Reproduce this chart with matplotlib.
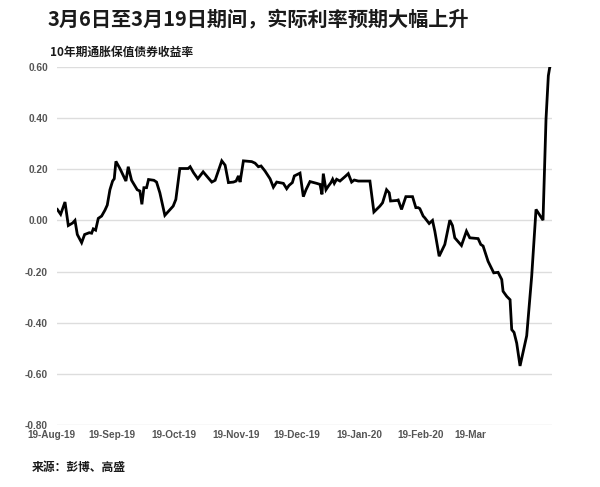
import matplotlib
matplotlib.use("Agg")
import matplotlib.pyplot as plt
from matplotlib.transforms import blended_transform_factory

plt.rcParams['font.family'] = ['Noto Sans CJK SC', 'DejaVu Sans']

title = "3月6日至3月19日期间，实际利率预期大幅上升"
subtitle = "10年期通胀保值债券收益率"
source = "来源：彭博、高盛"

# trading-day index (approx.) and 10Y TIPS yield (%)
day_idx = [0.0, 1.0, 2.3, 3.3, 4.6, 5.3, 6.0, 7.3, 8.2, 9.6, 10.3, 10.8, 11.5, 12.3,
           13.3, 14.3, 15.0, 15.8, 16.6, 17.1, 17.6, 18.8, 20.6, 21.3, 22.3, 24.0,
           24.8, 25.4, 26.0, 26.8, 27.4, 29.0, 29.8, 30.8, 32.3, 34.8, 35.6, 36.8,
           39.3, 39.9, 40.9, 42.2, 43.8, 46.4, 47.4, 49.4, 50.4, 51.4, 52.9, 53.7,
           54.4, 54.9, 55.9, 58.4, 59.4, 60.4, 61.2, 62.4, 63.9, 64.9, 65.9, 67.9,
           68.9, 69.6, 70.6, 71.2, 72.9, 73.9, 74.7, 75.9, 77.9, 78.9, 79.5, 79.9,
           80.7, 81.4, 82.2, 82.7, 83.2, 83.9, 84.9, 86.4, 87.4, 88.4, 89.2, 90.4,
           93.9, 95.1, 96.9, 97.7, 98.9, 99.7, 100.1, 101.9, 102.4, 103.4, 104.7,
           106.7, 107.7, 108.4, 108.9, 109.9, 110.4, 111.7, 112.7, 113.4, 114.7,
           116.4, 117.9, 118.7, 119.4, 121.4, 122.9, 123.9, 126.4, 127.2, 127.9,
           129.4, 131.1, 132.4, 133.5, 133.9, 135.0, 136.0, 136.5, 137.2, 138.0,
           139.0, 141.0, 142.5, 143.8, 145.9, 146.8, 147.5, 148.0]
yield_pct = [0.043, 0.024, 0.072, -0.020, -0.010, 0.000, -0.055, -0.087, -0.055, -0.048,
             -0.050, -0.033, -0.038, 0.008, 0.017, 0.040, 0.060, 0.120, 0.154, 0.163,
             0.231, 0.203, 0.154, 0.210, 0.157, 0.120, 0.115, 0.063, 0.128, 0.128,
             0.160, 0.157, 0.150, 0.108, 0.020, 0.056, 0.082, 0.203, 0.203, 0.210,
             0.187, 0.163, 0.190, 0.150, 0.157, 0.233, 0.216, 0.148, 0.150, 0.154,
             0.174, 0.150, 0.233, 0.230, 0.224, 0.210, 0.213, 0.193, 0.163, 0.130,
             0.150, 0.145, 0.124, 0.137, 0.148, 0.174, 0.185, 0.093, 0.120, 0.152,
             0.145, 0.141, 0.102, 0.183, 0.120, 0.134, 0.148, 0.161, 0.145, 0.161,
             0.154, 0.171, 0.183, 0.150, 0.158, 0.154, 0.154, 0.033, 0.056, 0.069,
             0.120, 0.108, 0.076, 0.078, 0.080, 0.043, 0.093, 0.093, 0.050, 0.050,
             0.046, 0.017, 0.010, -0.012, 0.000, -0.042, -0.140, -0.094, 0.001, -0.020,
             -0.068, -0.098, -0.042, -0.068, -0.071, -0.094, -0.100, -0.160, -0.205,
             -0.203, -0.231, -0.277, -0.297, -0.310, -0.427, -0.438, -0.480, -0.569,
             -0.451, -0.218, 0.043, 0.001, 0.396, 0.566, 0.605]

x_tick_labels = ["19-Aug-19", "19-Sep-19", "19-Oct-19", "19-Nov-19",
                 "19-Dec-19", "19-Jan-20", "19-Feb-20", "19-Mar"]
x_tick_pos = [-1.9, 16.4, 35.0, 53.7, 72.0, 90.6, 109.2, 124.2]
y_ticks = [-0.8, -0.6, -0.4, -0.2, 0.0, 0.2, 0.4, 0.6]

fig = plt.figure(figsize=(6.0, 4.87), dpi=100)
ax = fig.add_axes([57/600, 62/487, 495/600, 358/487])

ax.plot(day_idx, yield_pct, color='black', lw=2.0, solid_joinstyle='miter', zorder=3)

ax.set_xlim(-0.1, 148.6)
ax.set_ylim(-0.8, 0.6)
ax.set_yticks(y_ticks)
ax.set_yticklabels([f"{v:.2f}" for v in y_ticks], family='Liberation Sans',
                   fontsize=7.3, color='#555555', fontweight='bold')
ax.tick_params(axis='y', length=0, pad=6.5)
ax.set_xticks([])
ax.grid(axis='y', color='#dddddd', lw=1)
ax.set_axisbelow(True)
for s in ax.spines.values():
    s.set_visible(False)

trans = blended_transform_factory(ax.transData, ax.transAxes)
for pos, lab in zip(x_tick_pos, x_tick_labels):
    ax.text(pos, -0.028, lab, transform=trans, ha='center', va='center',
            family='Liberation Sans', fontsize=7.2, color='#555555', fontweight='bold')

fig.text(48/600, 1 - 19/487, title, ha='left', va='center', fontsize=14.5,
         fontweight='bold', color='#1a1a1a')
fig.text(50/600, 1 - 52/487, subtitle, ha='left', va='center', fontsize=8.5,
         fontweight='bold', color='#1a1a1a')
fig.text(32/600, 1 - 467/487, source, ha='left', va='center', fontsize=8.5,
         fontweight='bold', color='#1a1a1a')

fig.savefig("out.png", dpi=100, facecolor='white')
